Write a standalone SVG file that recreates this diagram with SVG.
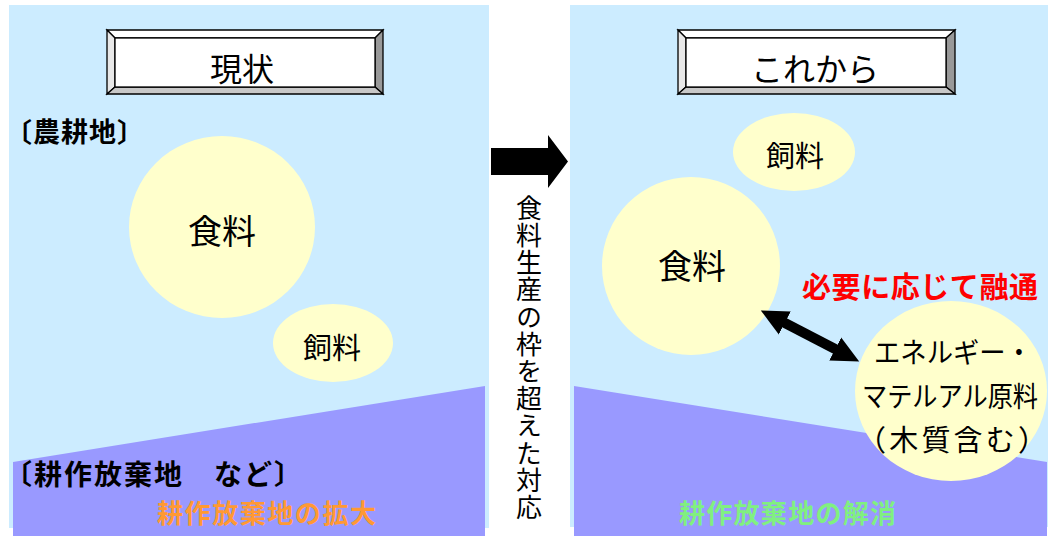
<svg xmlns="http://www.w3.org/2000/svg" width="1050" height="536" viewBox="0 0 1050 536">
<defs>
<style>
.panel{fill:#CCECFF}
.land{fill:#9999FF}
.bubble{fill:#FFFFCC}
.t{font-family:"Noto Sans CJK JP","Noto Sans CJK SC",sans-serif;dominant-baseline:central;fill:#000}
.b{font-weight:bold}
.bv{stroke:#000;stroke-width:1.3;stroke-linejoin:miter}
</style>
<marker id="ah" markerUnits="userSpaceOnUse" markerWidth="28" markerHeight="28" refX="2" refY="13" orient="auto-start-reverse" viewBox="0 0 28 26">
<path d="M0,0 L27,13 L0,26 z" fill="#000"/>
</marker>
</defs>
<rect width="1050" height="536" fill="#fff"/>

<g id="left-panel">
<rect class="panel" x="9" y="5" width="480" height="523"/>
<polygon class="land" points="13,462 485,386 485,536 13,536"/>
</g>
<g id="right-panel">
<rect class="panel" x="570" y="5" width="478" height="522"/>
<polygon class="land" points="574,386 1047,462 1047,536 574,536"/>
</g>

<g id="title-now">
<polygon class="bv" points="107,30 383,30 375,38 115,38" fill="#fff"/>
<polygon class="bv" points="107,30 115,38 115,87 107,94" fill="#e8e8e8"/>
<polygon class="bv" points="383,30 383,94 375,87 375,38" fill="#999"/>
<polygon class="bv" points="107,94 383,94 375,87 115,87" fill="#c8c8c8"/>
<rect class="bv" x="115" y="38" width="260" height="49" fill="#fff"/>
<text class="t" x="242" y="67" font-size="32" text-anchor="middle">現状</text>
</g>
<g id="title-future">
<polygon class="bv" points="678,30 955,30 946,38 686,38" fill="#fff"/>
<polygon class="bv" points="678,30 686,38 686,87 678,94" fill="#e8e8e8"/>
<polygon class="bv" points="955,30 955,94 946,87 946,38" fill="#999"/>
<polygon class="bv" points="678,94 955,94 946,87 686,87" fill="#c8c8c8"/>
<rect class="bv" x="686" y="38" width="260" height="49" fill="#fff"/>
<text class="t" x="815" y="67" font-size="32" text-anchor="middle">これから</text>
</g>

<g id="label-farmland">
<text class="t b" x="5" y="130" font-size="27" letter-spacing="1">〔農耕地〕</text>
</g>
<g id="label-abandoned">
<text class="t b" x="4" y="473" font-size="28" letter-spacing="2">〔耕作放棄地　など〕</text>
</g>

<g id="food-now">
<ellipse class="bubble" cx="222" cy="227" rx="93" ry="91"/>
<text class="t" x="222" y="229" font-size="34" text-anchor="middle">食料</text>
</g>
<g id="feed-now">
<ellipse class="bubble" cx="333" cy="343" rx="60" ry="39"/>
<text class="t" x="332" y="346" font-size="29" text-anchor="middle">飼料</text>
</g>
<g id="expand-label">
<text class="t b" x="157" y="511.5" font-size="26" style="fill:#FF9933" textLength="219" lengthAdjust="spacing">耕作放棄地の拡大</text>
</g>

<g id="transition-arrow">
<polygon points="491,148 548,148 548,135 568,161.5 548,188 548,175 491,175" fill="#000"/>
</g>
<g id="transition-label">
<text class="t" x="529" y="195" font-size="26" writing-mode="vertical-rl" style="writing-mode:vertical-rl" letter-spacing="1.2">食料生産の枠を超えた対応</text>
</g>

<g id="feed-future">
<ellipse class="bubble" cx="794" cy="152" rx="61" ry="39"/>
<text class="t" x="795" y="154" font-size="29" text-anchor="middle">飼料</text>
</g>
<g id="food-future">
<circle class="bubble" cx="691" cy="266" r="89"/>
<text class="t" x="692" y="264" font-size="34" text-anchor="middle">食料</text>
</g>
<g id="energy-material">
<ellipse class="bubble" cx="951" cy="391" rx="96" ry="90"/>
<text class="t" x="953" y="351" font-size="28" text-anchor="middle" textLength="158" lengthAdjust="spacingAndGlyphs">エネルギー・</text>
<text class="t" x="950" y="395" font-size="28" text-anchor="middle" textLength="176" lengthAdjust="spacingAndGlyphs">マテルアル原料</text>
<text class="t" x="952" y="438" font-size="29" text-anchor="middle" textLength="190" lengthAdjust="spacing">（木質含む）</text>
</g>
<g id="flex-label">
<text class="t b" x="920" y="285" font-size="29" text-anchor="middle" style="fill:#FF0000" textLength="236" lengthAdjust="spacing">必要に応じて融通</text>
</g>
<g id="resolve-label">
<text class="t b" x="679" y="511.5" font-size="26" style="fill:#80F080" textLength="217" lengthAdjust="spacing">耕作放棄地の解消</text>
</g>

<g id="connectors">
<line x1="783" y1="322" x2="837" y2="350" stroke="#000" stroke-width="10" marker-start="url(#ah)" marker-end="url(#ah)"/>
</g>
</svg>
